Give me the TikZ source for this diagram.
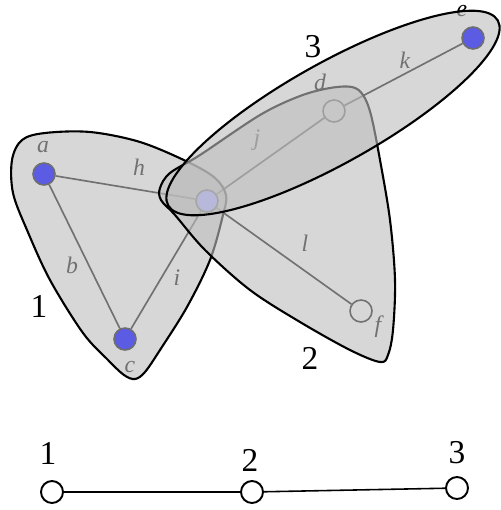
\documentclass[tikz,border=0pt]{standalone}
\usepackage{fontspec}
\setmainfont{Liberation Serif}
\usepackage{tikz}
\usetikzlibrary{backgrounds}
\definecolor{vblue}{HTML}{5B5BE3}
\definecolor{vpale}{HTML}{B8B8DA}
\definecolor{hfill}{HTML}{BDBDBD}

\begin{document}
\begin{tikzpicture}[
  x=0.02cm, y=-0.02cm,
  vtx/.style={circle, draw=black!57, line width=0.9pt, fill=vblue, minimum size=4.4mm, inner sep=0pt},
  vfaint/.style={circle, draw=black!35, line width=0.9pt, fill=vpale, minimum size=4.4mm, inner sep=0pt},
  vopen/.style={circle, draw=black, line width=0.9pt, fill=white, minimum size=4.4mm, inner sep=0pt},
  hedge/.style={draw=black, line width=1.2pt, fill=hfill, fill opacity=0.6},
  conn/.style={draw=black, line width=0.95pt},
  lbl/.style={font=\fontsize{13.5}{15}\selectfont\itshape, inner sep=0pt},
  num/.style={font=\fontsize{19}{22}\selectfont, inner sep=0pt},
  tnode/.style={circle, draw=black, line width=1.1pt, fill=white, minimum size=4.4mm, inner sep=0pt},
  tline/.style={draw=black, line width=0.9pt}
]
  \useasboundingbox (0,0) rectangle (500,510);

  % hyperedges 1, 2, 3
  \draw[hedge] plot[smooth cycle, tension=0.55] coordinates {
    (12,160) (22,140) (45,133) (90,132) (140,142) (188,162) (215,178) (226,195)
    (223,215) (210,260) (187,307) (160,350) (145,372) (135,379) (124,375)
    (108,360) (83,333) (50,280) (27,230) (13,193)};
  \draw[hedge] plot[smooth cycle, tension=0.55] coordinates {
    (160,188) (170,173) (200,155) (260,115) (300,96) (330,88) (352,87) (363,95)
    (371,115) (380,160) (390,220) (395,280) (393,330) (388,355) (380,362)
    (350,350) (300,322) (250,290) (205,250) (175,215) (161,200)};
  \draw[hedge, rotate around={29.3:(333,113)}] (333,113) ellipse [x radius=189, y radius=50];

  % vertices on top
  \node[vtx] (a) at (44,174) {};
  \node[vtx] (c) at (125,339) {};
  \node[vtx] (e) at (473,38) {};
  \node[vfaint] (g) at (207,201) {};

  % everything seen through the hyperedges
  \begin{scope}[on background layer]
    \node[vopen] (d) at (334,111) {};
    \node[vopen] (f) at (361,311) {};

    \draw[conn] (a) -- (c);
    \draw[conn] (a) -- (g);
    \draw[conn] (c) -- (g);
    \draw[conn] (g) -- (d);
    \draw[conn] (d) -- (e);
    \draw[conn] (g) -- (f);

    \node[lbl] (ta) at (43,147) {a};
    \node[lbl] (tc) at (130,367) {c};
    \node[lbl] (td) at (320,82) {d};
    \node[lbl] (te) at (462,11) {e};
    \node[lbl] (tf) at (378,327) {f};
    \node[lbl] (th) at (139,167) {h};
    \node[lbl] (tb) at (72,265) {b};
    \node[lbl] (ti) at (177,278) {i};
    \node[lbl] (tj) at (257,140) {j};
    \node[lbl] (tk) at (405,60) {k};
    \node[lbl] (tl) at (305,243) {l};
  \end{scope}

  \node[num] (h1) at (39,306) {1};
  \node[num] (h2) at (310,358) {2};
  \node[num] (h3) at (313,47) {3};

  % the tree below
  \node[tnode] (n1) at (52,492) {};
  \node[tnode] (n2) at (252,492) {};
  \node[tnode] (n3) at (457,488) {};
  \node[num] (t1) at (48,453) {1};
  \node[num] (t2) at (250,460) {2};
  \node[num] (t3) at (457,453) {3};
  \draw[tline] (n1) -- (n2);
  \draw[tline] (n2) -- (n3);
\end{tikzpicture}
\end{document}
